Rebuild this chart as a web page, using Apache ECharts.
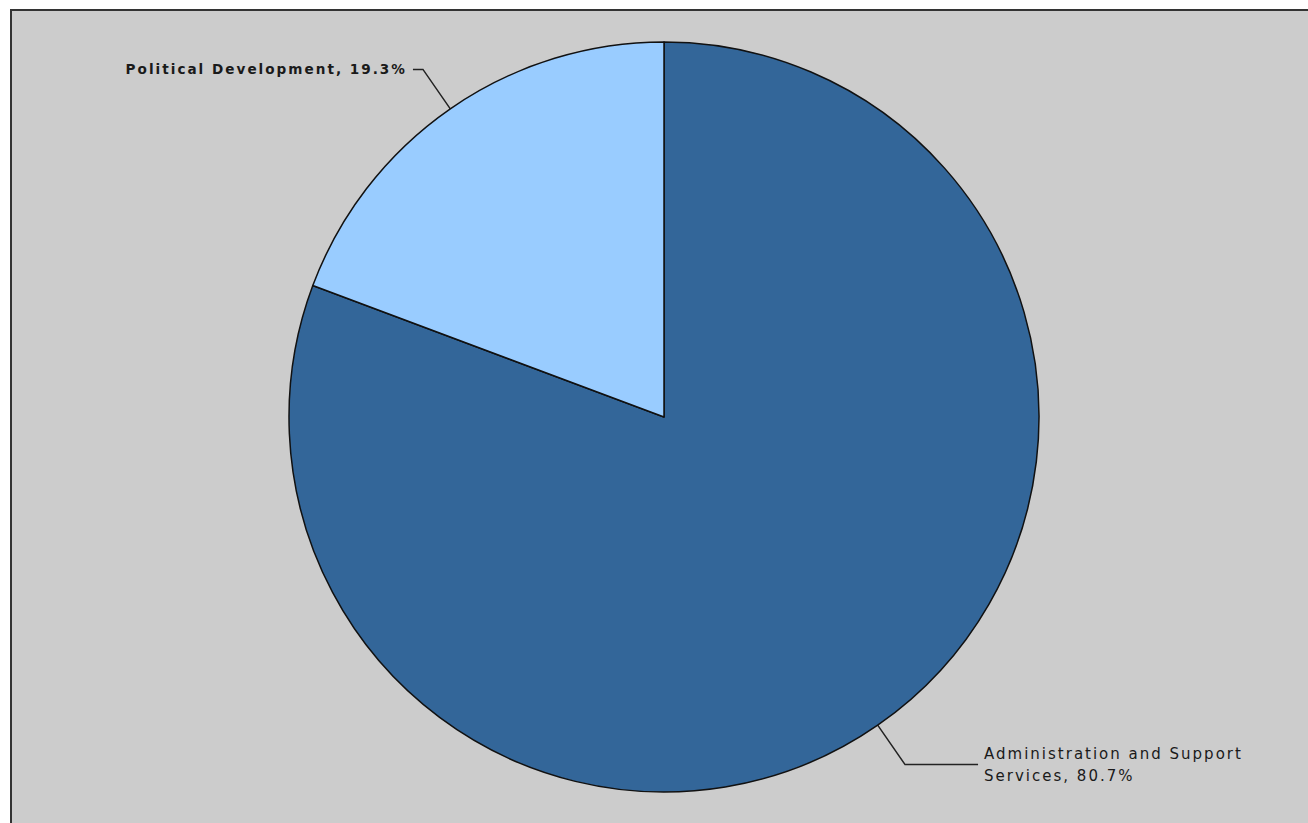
<!DOCTYPE html>
<html>
<head>
<meta charset="utf-8">
<script src="https://cdn.jsdelivr.net/npm/echarts@6/dist/echarts.min.js"></script>
<style>
  html, body { margin: 0; padding: 0; background: #fff; }
  /* grey panel with the dark frame; it runs off the right and bottom edge */
  #frame {
    position: absolute; left: 10px; top: 9px;
    width: 1320px; height: 840px;
    background: #cccccc; border: 2px solid #333;
  }
  #main { position: absolute; left: 0; top: 0; width: 1308px; height: 823px; }
  /* the original labels are widely spaced */
  #main svg text { letter-spacing: 2px; }
</style>
</head>
<body>
<div id="frame"></div>
<div id="main"></div>
<script>
// slices, clockwise from 12 o'clock
const categories = ['Administration and Support Services', 'Political Development'];
const values = [80.7, 19.3];
const colors = ['#336699', '#99ccff'];
const lineLength2 = [73, 10];

var myChart = echarts.init(document.getElementById('main'), null, { renderer: 'svg' });

const data = categories.map(function (name, i) {
  return {
    name: name,
    value: values[i],
    itemStyle: { color: colors[i] },
    labelLine: { length2: lineLength2[i] },
    label: i === 0
      ? { width: 240, overflow: 'break', fontWeight: 'normal', fontSize: 15 }
      : { fontWeight: 'bold', fontSize: 13.6 }
  };
});

myChart.setOption({
  backgroundColor: 'transparent',
  animation: false,
  series: [{
    type: 'pie',
    center: [664, 417],
    radius: 375,
    startAngle: 90,
    clockwise: true,
    percentPrecision: 1,
    avoidLabelOverlap: false,
    emphasis: { scale: false },
    itemStyle: { borderColor: '#111', borderWidth: 1.5 },
    label: {
      show: true,
      position: 'outside',
      formatter: '{b}, {d}%',
      fontFamily: 'DejaVu Sans',
      color: '#1a1a1a',
      lineHeight: 22,
      distanceToLabelLine: 6
    },
    labelLine: {
      show: true,
      length: 48,
      smooth: false,
      lineStyle: { color: '#222', width: 1.5 }
    },
    data: data
  }]
});
</script>
</body>
</html>
